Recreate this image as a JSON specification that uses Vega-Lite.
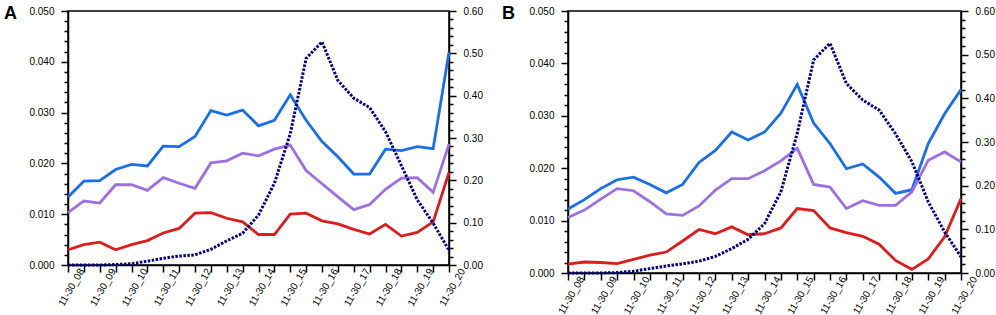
{
  "$schema": "https://vega.github.io/schema/vega-lite/v6.json",
  "padding": {"left": 3, "top": 4, "right": 1, "bottom": 0},
  "background": "white",
  "config": {
    "view": {"stroke": "black", "strokeWidth": 1.5},
    "axis": {
      "domainColor": "black", "domainWidth": 1.5, "tickColor": "black", "tickWidth": 1.5,
      "labelColor": "black", "labelFont": "Liberation Sans", "labelFontSize": 10,
      "grid": false, "title": null
    },
    "title": {"font": "Liberation Sans", "fontSize": 18, "fontWeight": "bold", "color": "black", "anchor": "start", "frame": "group", "offset": -17}
  },
  "datasets": {
    "a": [
      {"t": 8, "blue": 0.0134, "purple": 0.0103, "red": 0.0030, "navy": 0},
      {"t": 8.5, "blue": 0.0165, "purple": 0.0126, "red": 0.0040, "navy": 0},
      {"t": 9, "blue": 0.0166, "purple": 0.0122, "red": 0.0045, "navy": 0},
      {"t": 9.5, "blue": 0.0188, "purple": 0.0158, "red": 0.0030, "navy": 0.001},
      {"t": 10, "blue": 0.0198, "purple": 0.0158, "red": 0.0040, "navy": 0.003},
      {"t": 10.5, "blue": 0.0195, "purple": 0.0147, "red": 0.0048, "navy": 0.009},
      {"t": 11, "blue": 0.0234, "purple": 0.0172, "red": 0.0063, "navy": 0.016},
      {"t": 11.5, "blue": 0.0233, "purple": 0.0161, "red": 0.0072, "navy": 0.021},
      {"t": 12, "blue": 0.0253, "purple": 0.0151, "red": 0.0102, "navy": 0.024},
      {"t": 12.5, "blue": 0.0304, "purple": 0.0201, "red": 0.0103, "navy": 0.037},
      {"t": 13, "blue": 0.0295, "purple": 0.0205, "red": 0.0092, "navy": 0.057},
      {"t": 13.5, "blue": 0.0305, "purple": 0.0220, "red": 0.0085, "navy": 0.075},
      {"t": 14, "blue": 0.0274, "purple": 0.0215, "red": 0.0060, "navy": 0.118},
      {"t": 14.5, "blue": 0.0285, "purple": 0.0228, "red": 0.0060, "navy": 0.193},
      {"t": 15, "blue": 0.0335, "purple": 0.0236, "red": 0.0100, "navy": 0.31},
      {"t": 15.5, "blue": 0.0285, "purple": 0.0186, "red": 0.0102, "navy": 0.488},
      {"t": 16, "blue": 0.0243, "purple": 0.0160, "red": 0.0087, "navy": 0.527},
      {"t": 16.5, "blue": 0.0213, "purple": 0.0134, "red": 0.0081, "navy": 0.436},
      {"t": 17, "blue": 0.0179, "purple": 0.0109, "red": 0.0070, "navy": 0.394},
      {"t": 17.5, "blue": 0.0179, "purple": 0.0119, "red": 0.0061, "navy": 0.372},
      {"t": 18, "blue": 0.0228, "purple": 0.0149, "red": 0.0080, "navy": 0.315},
      {"t": 18.5, "blue": 0.0225, "purple": 0.0171, "red": 0.0057, "navy": 0.235},
      {"t": 19, "blue": 0.0233, "purple": 0.0172, "red": 0.0064, "navy": 0.154},
      {"t": 19.5, "blue": 0.0229, "purple": 0.0143, "red": 0.0085, "navy": 0.099},
      {"t": 20, "blue": 0.0419, "purple": 0.0238, "red": 0.0182, "navy": 0.035}
    ],
    "b": [
      {"t": 8, "blue": 0.0122, "purple": 0.0106, "red": 0.0017, "navy": 0},
      {"t": 8.5, "blue": 0.0140, "purple": 0.0120, "red": 0.0021, "navy": 0},
      {"t": 9, "blue": 0.0161, "purple": 0.0141, "red": 0.0020, "navy": 0},
      {"t": 9.5, "blue": 0.0178, "purple": 0.0161, "red": 0.0018, "navy": 0.001},
      {"t": 10, "blue": 0.0183, "purple": 0.0157, "red": 0.0026, "navy": 0.004},
      {"t": 10.5, "blue": 0.0169, "purple": 0.0136, "red": 0.0034, "navy": 0.010},
      {"t": 11, "blue": 0.0153, "purple": 0.0113, "red": 0.0040, "navy": 0.016},
      {"t": 11.5, "blue": 0.0169, "purple": 0.0110, "red": 0.0061, "navy": 0.021},
      {"t": 12, "blue": 0.0211, "purple": 0.0128, "red": 0.0083, "navy": 0.027},
      {"t": 12.5, "blue": 0.0234, "purple": 0.0158, "red": 0.0075, "navy": 0.038},
      {"t": 13, "blue": 0.0269, "purple": 0.0180, "red": 0.0088, "navy": 0.056},
      {"t": 13.5, "blue": 0.0254, "purple": 0.0180, "red": 0.0073, "navy": 0.077},
      {"t": 14, "blue": 0.0269, "purple": 0.0195, "red": 0.0075, "navy": 0.113},
      {"t": 14.5, "blue": 0.0305, "purple": 0.0214, "red": 0.0086, "navy": 0.186},
      {"t": 15, "blue": 0.0360, "purple": 0.0238, "red": 0.0123, "navy": 0.32},
      {"t": 15.5, "blue": 0.0286, "purple": 0.0169, "red": 0.0119, "navy": 0.488},
      {"t": 16, "blue": 0.0247, "purple": 0.0164, "red": 0.0086, "navy": 0.526},
      {"t": 16.5, "blue": 0.0199, "purple": 0.0123, "red": 0.0077, "navy": 0.434},
      {"t": 17, "blue": 0.0208, "purple": 0.0138, "red": 0.0070, "navy": 0.396},
      {"t": 17.5, "blue": 0.0183, "purple": 0.0129, "red": 0.0055, "navy": 0.373},
      {"t": 18, "blue": 0.0152, "purple": 0.0129, "red": 0.0024, "navy": 0.319},
      {"t": 18.5, "blue": 0.0159, "purple": 0.0155, "red": 0.0007, "navy": 0.255},
      {"t": 19, "blue": 0.0247, "purple": 0.0215, "red": 0.0027, "navy": 0.163},
      {"t": 19.5, "blue": 0.0304, "purple": 0.0231, "red": 0.0069, "navy": 0.094},
      {"t": 20, "blue": 0.0350, "purple": 0.0212, "red": 0.0142, "navy": 0.037}
    ]
  },
  "spacing": 17,
  "hconcat": [
    {
      "title": {"text": "A", "dx": -64},
      "width": 381, "height": 254,
      "data": {"name": "a"},
      "encoding": {
        "x": {"field": "t", "type": "quantitative", "scale": {"domain": [8, 20], "nice": false, "zero": false},
          "axis": {"values": [8, 8.5, 9, 9.5, 10, 10.5, 11, 11.5, 12, 12.5, 13, 13.5, 14, 14.5, 15, 15.5, 16, 16.5, 17, 17.5, 18, 18.5, 19, 19.5, 20],
            "labelExpr": "datum.value % 1 == 0 ? '11-30_' + (datum.value < 10 ? '0' : '') + datum.value : ''",
            "labelAngle": -60, "labelAlign": "center", "labelBaseline": "middle", "labelPadding": 15, "labelOffset": 3,
            "tickSize": 7, "labelFlush": false, "labelOverlap": false, "labelBound": false}}
      },
      "layer": [
        {
          "transform": [{"fold": ["blue", "purple", "red"], "as": ["s", "v"]}],
          "mark": {"type": "line", "strokeWidth": 2.8},
          "encoding": {
            "y": {"field": "v", "type": "quantitative", "scale": {"domain": [0, 0.05], "nice": false},
              "axis": {"orient": "left", "values": [0, 0.01, 0.02, 0.03, 0.04, 0.05], "format": ".3f", "tickSize": 7, "labelPadding": 7, "labelFlush": false, "labelOverlap": false}},
            "color": {"field": "s", "type": "nominal", "scale": {"domain": ["blue", "purple", "red"], "range": ["#1a6ee6", "#9e6fe0", "#dd1c1c"]}, "legend": null}
          }
        },
        {
          "mark": {"type": "line", "stroke": "#000080", "strokeWidth": 3, "strokeDash": [2.5, 1.5]},
          "encoding": {
            "y": {"field": "navy", "type": "quantitative", "scale": {"domain": [0, 0.6], "nice": false},
              "axis": {"orient": "right", "values": [0, 0.1, 0.2, 0.3, 0.4, 0.5, 0.6], "format": ".2f", "tickSize": 7, "labelPadding": 7, "labelFlush": false, "labelOverlap": false}}
          }
        },
        {
          "mark": {"type": "line", "strokeOpacity": 0},
          "encoding": {
            "y": {"field": "blue", "type": "quantitative", "scale": {"domain": [0, 0.05], "nice": false},
              "axis": {"orient": "left", "values": [0.002, 0.004, 0.006, 0.008, 0.012, 0.014, 0.016, 0.018, 0.022, 0.024, 0.026, 0.028, 0.032, 0.034, 0.036, 0.038, 0.042, 0.044, 0.046, 0.048], "labels": false, "domain": false, "tickSize": 4}}
          }
        },
        {
          "mark": {"type": "line", "strokeOpacity": 0},
          "encoding": {
            "y": {"field": "navy", "type": "quantitative", "scale": {"domain": [0, 0.6], "nice": false},
              "axis": {"orient": "right", "values": [0.02, 0.04, 0.06, 0.08, 0.12, 0.14, 0.16, 0.18, 0.22, 0.24, 0.26, 0.28, 0.32, 0.34, 0.36, 0.38, 0.42, 0.44, 0.46, 0.48, 0.52, 0.54, 0.56, 0.58], "labels": false, "domain": false, "tickSize": 4}}
          }
        }
      ],
      "resolve": {"scale": {"y": "independent"}}
    },
    {
      "title": {"text": "B", "dx": -66},
      "width": 393, "height": 262,
      "data": {"name": "b"},
      "encoding": {
        "x": {"field": "t", "type": "quantitative", "scale": {"domain": [8, 20], "nice": false, "zero": false},
          "axis": {"values": [8, 8.5, 9, 9.5, 10, 10.5, 11, 11.5, 12, 12.5, 13, 13.5, 14, 14.5, 15, 15.5, 16, 16.5, 17, 17.5, 18, 18.5, 19, 19.5, 20],
            "labelExpr": "datum.value % 1 == 0 ? '11-30_' + (datum.value < 10 ? '0' : '') + datum.value : ''",
            "labelAngle": -60, "labelAlign": "center", "labelBaseline": "middle", "labelPadding": 15, "labelOffset": 3,
            "tickSize": 7, "labelFlush": false, "labelOverlap": false, "labelBound": false}}
      },
      "layer": [
        {
          "transform": [{"fold": ["blue", "purple", "red"], "as": ["s", "v"]}],
          "mark": {"type": "line", "strokeWidth": 2.8},
          "encoding": {
            "y": {"field": "v", "type": "quantitative", "scale": {"domain": [0, 0.05], "nice": false},
              "axis": {"orient": "left", "values": [0, 0.01, 0.02, 0.03, 0.04, 0.05], "format": ".3f", "tickSize": 7, "labelPadding": 7, "labelFlush": false, "labelOverlap": false}},
            "color": {"field": "s", "type": "nominal", "scale": {"domain": ["blue", "purple", "red"], "range": ["#1a6ee6", "#9e6fe0", "#dd1c1c"]}, "legend": null}
          }
        },
        {
          "mark": {"type": "line", "stroke": "#000080", "strokeWidth": 3, "strokeDash": [2.5, 1.5]},
          "encoding": {
            "y": {"field": "navy", "type": "quantitative", "scale": {"domain": [0, 0.6], "nice": false},
              "axis": {"orient": "right", "values": [0, 0.1, 0.2, 0.3, 0.4, 0.5, 0.6], "format": ".2f", "tickSize": 7, "labelPadding": 7, "labelFlush": false, "labelOverlap": false}}
          }
        },
        {
          "mark": {"type": "line", "strokeOpacity": 0},
          "encoding": {
            "y": {"field": "blue", "type": "quantitative", "scale": {"domain": [0, 0.05], "nice": false},
              "axis": {"orient": "left", "values": [0.002, 0.004, 0.006, 0.008, 0.012, 0.014, 0.016, 0.018, 0.022, 0.024, 0.026, 0.028, 0.032, 0.034, 0.036, 0.038, 0.042, 0.044, 0.046, 0.048], "labels": false, "domain": false, "tickSize": 4}}
          }
        },
        {
          "mark": {"type": "line", "strokeOpacity": 0},
          "encoding": {
            "y": {"field": "navy", "type": "quantitative", "scale": {"domain": [0, 0.6], "nice": false},
              "axis": {"orient": "right", "values": [0.02, 0.04, 0.06, 0.08, 0.12, 0.14, 0.16, 0.18, 0.22, 0.24, 0.26, 0.28, 0.32, 0.34, 0.36, 0.38, 0.42, 0.44, 0.46, 0.48, 0.52, 0.54, 0.56, 0.58], "labels": false, "domain": false, "tickSize": 4}}
          }
        }
      ],
      "resolve": {"scale": {"y": "independent"}}
    }
  ]
}
